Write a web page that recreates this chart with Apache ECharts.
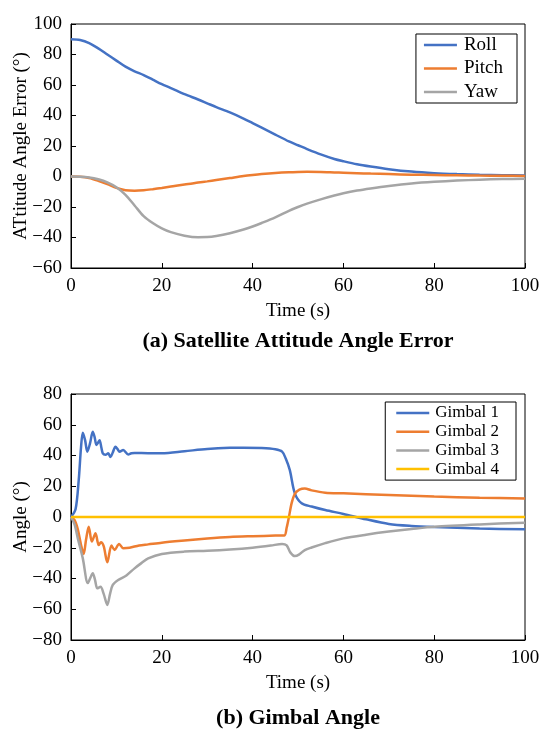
<!DOCTYPE html>
<html>
<head>
<meta charset="utf-8">
<script src="https://cdn.jsdelivr.net/npm/echarts@6/dist/echarts.min.js"></script>
<style>html,body{margin:0;padding:0;background:#fff}#c{width:550px;height:743px}</style>
</head>
<body>
<div id="c"></div>
<script>
// ---------- Data (a) Satellite attitude angle error ----------
const attTime = [0, 2, 4, 6, 8, 10, 12, 14, 16, 18, 20, 22, 25, 28, 30, 32, 35, 38, 40, 42, 45, 48, 50, 52, 55, 58, 60, 63, 66, 70, 75, 80, 85, 90, 95, 100];
const roll  = [90, 89.5, 87.5, 84, 80, 76, 72, 69, 66.5, 63.5, 60.5, 58, 54, 50.5, 48, 45.5, 42, 38, 35, 32, 27.5, 23, 20.5, 18, 14.5, 11.5, 10, 8, 6.5, 4.8, 3.2, 2.2, 1.6, 1.2, 0.9, 0.7];
const pitch = [0, -0.2, -1, -2.8, -5, -7.5, -9, -9.3, -9, -8.3, -7.5, -6.6, -5.2, -4, -3.2, -2.3, -1, 0.3, 1, 1.6, 2.3, 2.8, 3, 3.1, 3, 2.7, 2.5, 2.2, 1.9, 1.6, 1.2, 1, 0.8, 0.6, 0.5, 0.4];
const yaw   = [0, -0.1, -0.6, -1.8, -3.8, -7, -12, -19, -26, -30.5, -34, -36.5, -38.8, -39.8, -39.7, -39, -37.2, -34.8, -32.8, -30.5, -26.8, -22.5, -20, -17.8, -15, -12.5, -11, -9.2, -7.8, -6.2, -4.6, -3.5, -2.7, -2.1, -1.7, -1.4];

// ---------- Data (b) Gimbal angle ----------
const g1Time = [0, 1, 1.7, 2.2, 2.6, 3.1, 3.6, 4.2, 4.8, 5.2, 5.6, 6.0, 6.3, 6.7, 7.0, 7.6, 8.2, 8.7, 9.2, 9.8, 10.3, 10.7, 11.5, 12.6, 13.3, 14, 17, 20, 25, 30, 35, 38, 42, 45, 46.5, 47.3, 48.2, 49.3, 50.8, 53, 56, 60, 65, 70, 75, 80, 90, 100];
const g1 = [0, 5, 24, 45, 54.8, 50, 42.5, 48, 55.4, 52, 46.8, 48.5, 50, 45, 41.4, 40.5, 41.4, 39, 42, 45.7, 44, 42.5, 43.5, 40.7, 41.5, 41.7, 41.5, 41.5, 42.8, 44.2, 45, 45.1, 44.8, 44, 42.5, 38, 30.5, 15.4, 8.9, 6.8, 4.5, 2, -1.5, -4.5, -5.8, -6.5, -7.5, -8];
const g2Time = [0, 0.8, 1.5, 2.2, 2.8, 3.3, 3.9, 4.6, 5.4, 6.1, 6.6, 7.2, 8.0, 8.9, 9.6, 10.6, 11.5, 12.9, 15, 17, 20, 25, 30, 35, 40, 45, 47, 47.5, 48, 48.6, 49.3, 50.3, 51.5, 53, 56, 60, 70, 80, 90, 100];
const g2 = [0, -2, -8, -18, -24, -15, -6.3, -16, -10.6, -18.2, -16.5, -19, -29.5, -18.6, -21.4, -17.5, -20.3, -20, -18.5, -17.8, -16.7, -15.3, -14, -13, -12.5, -12.1, -12, -7, 0, 9, 15, 17.8, 18.6, 17.3, 15.8, 15.4, 14.3, 13.3, 12.6, 12.1];
const g3Time = [0, 0.8, 1.5, 2.6, 3.7, 4.2, 4.8, 5.3, 5.8, 6.5, 7.2, 8.0, 8.6, 9.2, 10.4, 12.2, 14, 15.5, 17, 20, 25, 30, 35, 40, 44, 46.5, 47.5, 48.3, 49.3, 50.2, 51.5, 53, 56, 60, 65, 70, 75, 80, 90, 100];
const g3 = [0, -5, -13.9, -26.9, -43, -40, -36.6, -41, -46.4, -45.4, -50, -57.2, -50, -44.2, -41, -38, -33.4, -30, -26.9, -24, -22.5, -22, -21.2, -20, -18.6, -17.5, -18.5, -23, -25.4, -24.5, -21.5, -19.8, -17, -13.9, -11.5, -9.5, -7.8, -6.3, -4.8, -3.7];
const g4Time = [0, 100];
const g4 = [0, 0];

const xTicks = [0, 20, 40, 60, 80, 100];
const namesA = ['Roll', 'Pitch', 'Yaw'];
const namesB = ['Gimbal 1', 'Gimbal 2', 'Gimbal 3', 'Gimbal 4'];

const FONT = 'Liberation Serif';
const C = ['#4472C4', '#ED7D31', '#A5A5A5', '#FFC000'];
const zip = (t, v) => t.map((x, i) => [x, v[i]]);
const minus = v => String(v).replace('-', '\u2212');

function xAx(gi) {
  return {
    type: 'value', gridIndex: gi, min: xTicks[0], max: xTicks[xTicks.length - 1], interval: 20,
    name: 'Time (s)', nameLocation: 'middle', nameGap: 34, nameMoveOverlap: false,
    nameTextStyle: { fontSize: 19, color: '#000', fontFamily: FONT },
    axisLine: { show: true, onZero: false, lineStyle: { color: '#000', width: 1 } },
    axisTick: { show: true, inside: true, length: 5, lineStyle: { color: '#000' } },
    axisLabel: { fontSize: 19, color: '#000', fontFamily: FONT, margin: 9 },
    splitLine: { show: false }
  };
}
function yAx(gi, name, mn, mx) {
  return {
    type: 'value', gridIndex: gi, min: mn, max: mx, interval: 20,
    name: name, nameLocation: 'middle', nameGap: 40, nameMoveOverlap: false,
    nameTextStyle: { fontSize: 19, color: '#000', fontFamily: FONT },
    axisLine: { show: true, lineStyle: { color: '#000', width: 1 } },
    axisTick: { show: true, inside: true, length: 5, lineStyle: { color: '#000' } },
    axisLabel: { fontSize: 19, color: '#000', fontFamily: FONT, margin: 9, formatter: minus },
    splitLine: { show: false }
  };
}
function ser(name, gi, data, color, z) {
  return {
    name: name, type: 'line', xAxisIndex: gi, yAxisIndex: gi, data: data,
    showSymbol: false, symbol: 'none', smooth: 0.3, z: z || 2,
    lineStyle: { color: color, width: 2.5 }, itemStyle: { color: color },
    animation: false, clip: true
  };
}

const chart = echarts.init(document.getElementById('c'), null, { renderer: 'canvas' });
chart.setOption({
  animation: false,
  backgroundColor: '#fff',
  textStyle: { fontFamily: FONT },
  title: [
    { text: '(a) Satellite Attitude Angle Error', left: 293, top: 325, textAlign: 'center',
      textStyle: { fontSize: 22, fontWeight: 'bold', color: '#000', fontFamily: FONT } },
    { text: '(b) Gimbal Angle', left: 293, top: 702, textAlign: 'center',
      textStyle: { fontSize: 22, fontWeight: 'bold', color: '#000', fontFamily: FONT } }
  ],
  grid: [
    { left: 71, right: 25, top: 24, height: 244, show: true, borderColor: '#000', borderWidth: 1, backgroundColor: 'transparent', containLabel: false, outerBoundsMode: 'none' },
    { left: 71, right: 25, top: 394, height: 246, show: true, borderColor: '#000', borderWidth: 1, backgroundColor: 'transparent', containLabel: false, outerBoundsMode: 'none' }
  ],
  legend: [
    { data: namesA, orient: 'vertical', right: 33, top: 34, icon: 'rect', itemWidth: 33, itemHeight: 2.5,
      itemGap: 3.5, padding: [1, 14, 1, 8], borderColor: '#000', borderWidth: 1, backgroundColor: '#fff',
      textStyle: { fontSize: 19, color: '#000', fontFamily: FONT, lineHeight: 20, padding: [0, 0, 0, 2] } },
    { data: namesB, orient: 'vertical', right: 34, top: 402, icon: 'rect', itemWidth: 33, itemHeight: 2.5,
      itemGap: 0.7, padding: [2, 17, 2, 11], borderColor: '#000', borderWidth: 1, backgroundColor: '#fff',
      textStyle: { fontSize: 17, color: '#000', fontFamily: FONT, lineHeight: 18, padding: [0, 0, 0, 1] } }
  ],
  xAxis: [xAx(0), xAx(1)],
  yAxis: [yAx(0, 'ATtitude Angle Error (°)', -60, 100), yAx(1, 'Angle (°)', -80, 80)],
  series: [
    ser(namesA[0], 0, zip(attTime, roll), C[0]),
    ser(namesA[1], 0, zip(attTime, pitch), C[1]),
    ser(namesA[2], 0, zip(attTime, yaw), C[2]),
    ser(namesB[0], 1, zip(g1Time, g1), C[0]),
    ser(namesB[1], 1, zip(g2Time, g2), C[1]),
    ser(namesB[2], 1, zip(g3Time, g3), C[2]),
    ser(namesB[3], 1, zip(g4Time, g4), C[3], 3)
  ]
});
</script>
</body>
</html>
